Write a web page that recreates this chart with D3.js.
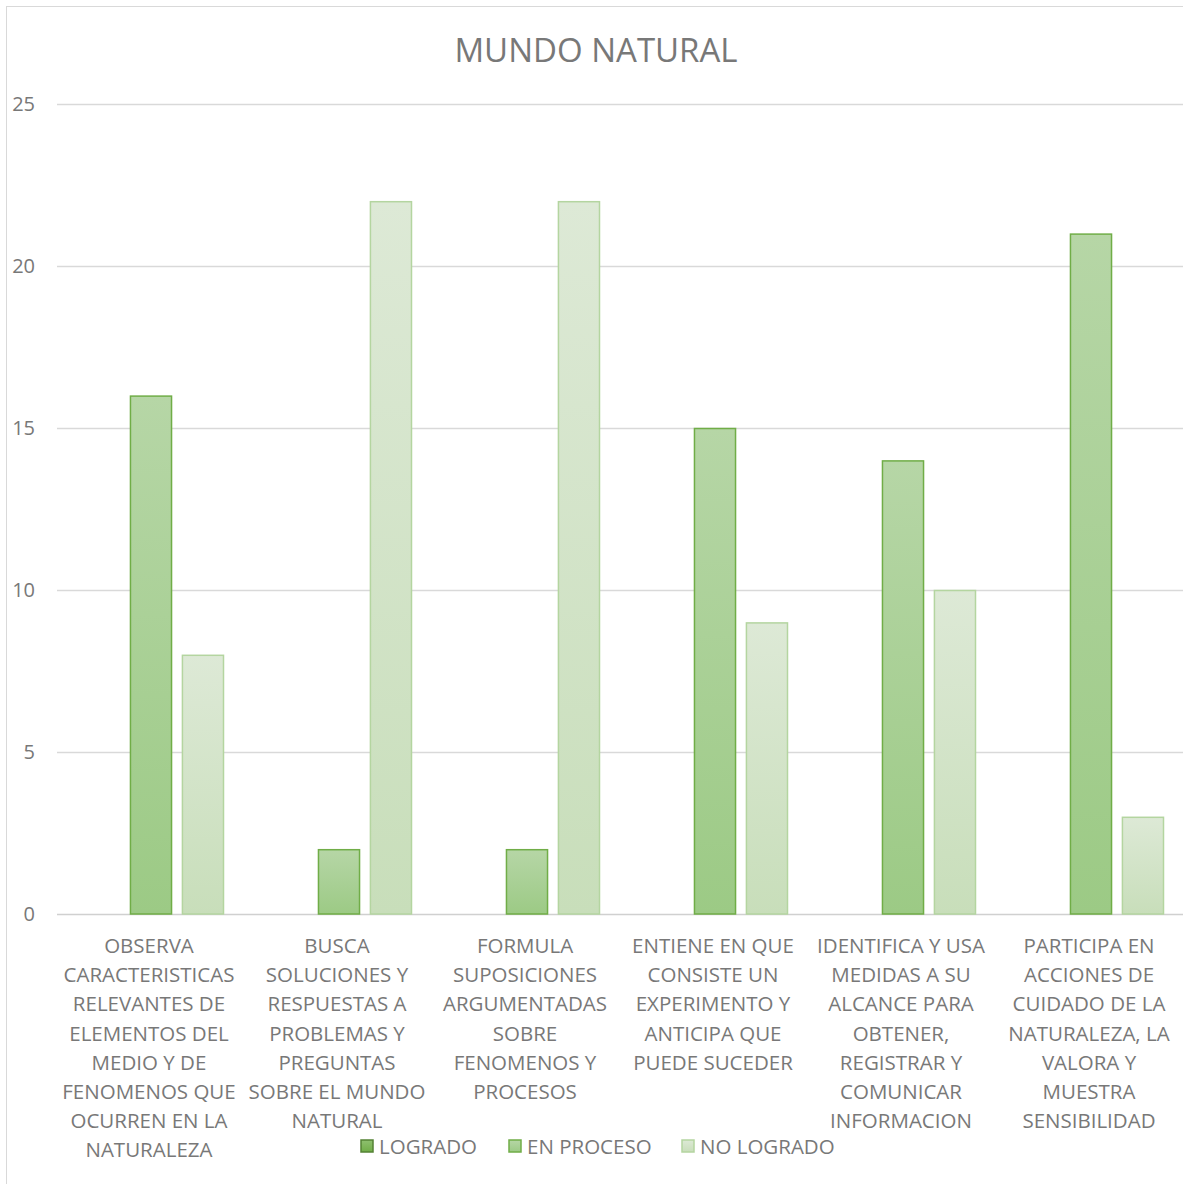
<!DOCTYPE html>
<meta charset="utf-8">
<style>
body { margin: 0; background: #fff; }
text { font-family: "Open Sans", sans-serif; fill: #787878; }
</style>
<body>
<script src="https://cdn.jsdelivr.net/npm/d3@7"></script>
<script>

// chart data
var categories = [
  ["OBSERVA", "CARACTERISTICAS", "RELEVANTES DE", "ELEMENTOS DEL", "MEDIO Y DE", "FENOMENOS QUE", "OCURREN EN LA", "NATURALEZA"],
  ["BUSCA", "SOLUCIONES Y", "RESPUESTAS A", "PROBLEMAS Y", "PREGUNTAS", "SOBRE EL MUNDO", "NATURAL"],
  ["FORMULA", "SUPOSICIONES", "ARGUMENTADAS", "SOBRE", "FENOMENOS Y", "PROCESOS"],
  ["ENTIENE EN QUE", "CONSISTE UN", "EXPERIMENTO Y", "ANTICIPA QUE", "PUEDE SUCEDER"],
  ["IDENTIFICA Y USA", "MEDIDAS A SU", "ALCANCE PARA", "OBTENER,", "REGISTRAR Y", "COMUNICAR", "INFORMACION"],
  ["PARTICIPA EN", "ACCIONES DE", "CUIDADO DE LA", "NATURALEZA, LA", "VALORA Y", "MUESTRA", "SENSIBILIDAD"]
];
var seriesNames = ["LOGRADO", "EN PROCESO", "NO LOGRADO"];
var logrado   = [0, 0, 0, 0, 0, 0];
var enProceso = [16, 2, 2, 15, 14, 21];
var noLogrado = [8, 22, 22, 9, 10, 3];
var yTicks = [0, 5, 10, 15, 20, 25];

var series = [logrado, enProceso, noLogrado];
var fills = ["url(#gLog)", "url(#gProc)", "url(#gNo)"];
var strokes = ["#548235", "#70ad47", "#b4d5a0"];

var W = 1183, H = 1184;
var svg = d3.select("body").append("svg")
    .attr("width", W)
    .attr("height", H);

var defs = svg.append("defs");
function grad(id, c1, c2) {
  var g = defs.append("linearGradient").attr("id", id)
      .attr("x1", 0).attr("y1", 0).attr("x2", 0).attr("y2", 1);
  g.append("stop").attr("offset", "0%").attr("stop-color", c1);
  g.append("stop").attr("offset", "100%").attr("stop-color", c2);
}
grad("gLog", "#8fc070", "#70ad47");
grad("gProc", "#b6d6a6", "#9cca85");
grad("gNo", "#dde9d6", "#c8deba");

// chart border
svg.append("rect")
    .attr("x", 6.5).attr("y", 6.5)
    .attr("width", W + 10).attr("height", H + 10)
    .attr("fill", "none").attr("stroke", "#d9d9d9");

var plotL = 57, plotR = 1185, plotT = 104, plotB = 914;

var x0 = d3.scaleBand()
    .domain(d3.range(categories.length))
    .range([plotL, plotR]);
var x1 = d3.scaleBand()
    .domain(d3.range(series.length))
    .range([21, x0.bandwidth() - 21])
    .paddingInner(0.19);
var y = d3.scaleLinear().domain([0, 25]).range([plotB, plotT]);

// grid
svg.append("g").selectAll("line")
    .data(yTicks)
  .enter().append("line")
    .attr("x1", plotL).attr("x2", W)
    .attr("y1", function(d) { return Math.round(y(d)) + 0.5; })
    .attr("y2", function(d) { return Math.round(y(d)) + 0.5; })
    .attr("stroke", function(d) { return d === 0 ? "#d0d0d0" : "#d9d9d9"; })
    .attr("stroke-width", 1.5);

// y tick labels
svg.append("g").selectAll("text")
    .data(yTicks)
  .enter().append("text")
    .attr("x", 35)
    .attr("y", function(d) { return y(d) + 7; })
    .attr("text-anchor", "end")
    .style("font-size", "20px")
    .text(function(d) { return d; });

// bars
var groups = svg.append("g").selectAll("g")
    .data(categories)
  .enter().append("g")
    .attr("transform", function(d, i) { return "translate(" + x0(i) + ",0)"; });

groups.selectAll("rect")
    .data(function(d, i) { return series.map(function(s, k) { return {k: k, v: s[i]}; }); })
  .enter().filter(function(d) { return d.v > 0; }).append("rect")
    .attr("x", function(d) { return x1(d.k) + 0.5; })
    .attr("width", x1.bandwidth() - 1)
    .attr("y", function(d) { return y(d.v) + 0.5; })
    .attr("height", function(d) { return plotB - y(d.v) - 0.5; })
    .attr("fill", function(d) { return fills[d.k]; })
    .attr("stroke", function(d) { return strokes[d.k]; })
    .attr("stroke-width", 1.5);

// category labels
groups.append("text")
    .attr("text-anchor", "middle")
    .style("font-size", "20.5px")
    .selectAll("tspan")
    .data(function(d) { return d; })
  .enter().append("tspan")
    .attr("x", x0.bandwidth() / 2 - 2)
    .attr("y", function(d, j) { return 953 + j * 29.2; })
    .text(function(d) { return d; });

// title
svg.append("text")
    .attr("x", 596).attr("y", 62)
    .attr("text-anchor", "middle")
    .style("font-size", "33px")
    .text("MUNDO NATURAL");

// legend
var legendX = [361, 509, 682];
var leg = svg.append("g").selectAll("g")
    .data(seriesNames)
  .enter().append("g")
    .attr("transform", function(d, i) { return "translate(" + legendX[i] + ",1140)"; });
leg.append("rect")
    .attr("width", 12).attr("height", 12)
    .attr("fill", function(d, i) { return fills[i]; })
    .attr("stroke", function(d, i) { return strokes[i]; })
    .attr("stroke-width", 1.5);
leg.append("text")
    .attr("x", 18).attr("y", 14)
    .style("font-size", "20.5px")
    .text(function(d) { return d; });

</script>
</body>
